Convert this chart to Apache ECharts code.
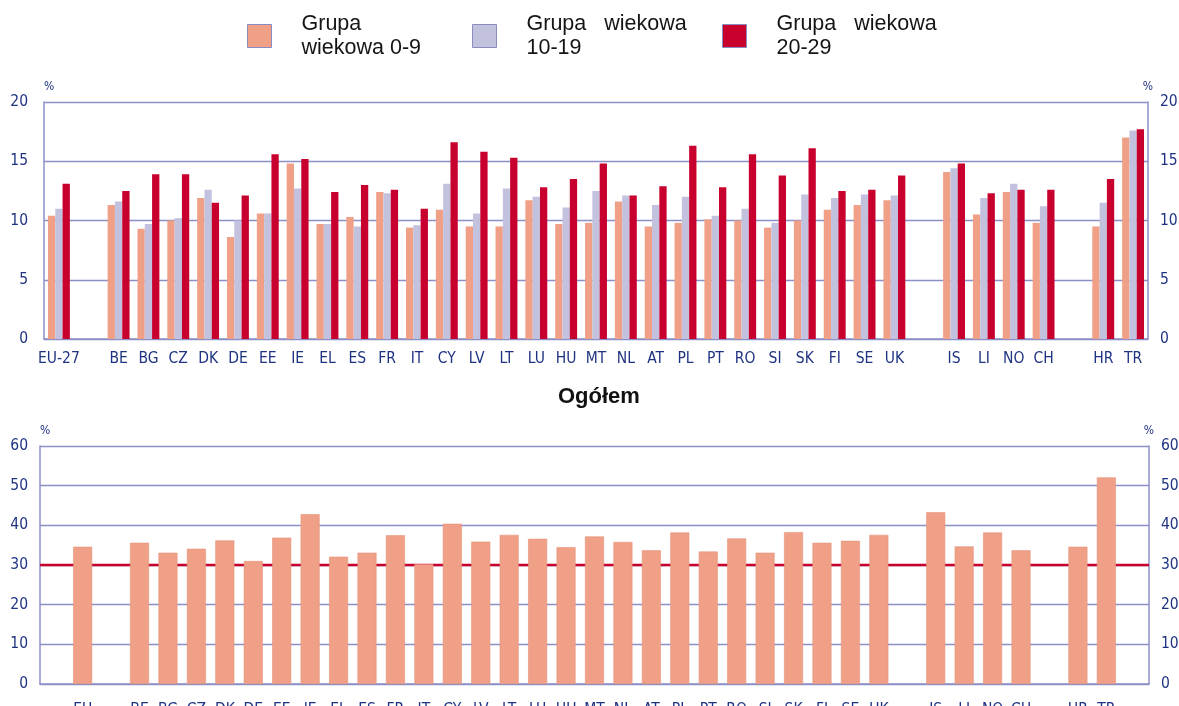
<!DOCTYPE html>
<html>
<head>
<meta charset="utf-8">
<script src="https://cdn.jsdelivr.net/npm/echarts@6/dist/echarts.min.js"></script>
<style>
  html, body { margin: 0; padding: 0; background: #ffffff; }
  #chart { width: 1179px; height: 706px; }
</style>
</head>
<body>
<div id="chart"></div>
<script>
// Country codes per age-group chart; blank entries are spacer slots between country groups
const countriesByAge = ['EU-27', ' ', 'BE', 'BG', 'CZ', 'DK', 'DE', 'EE', 'IE', 'EL', 'ES', 'FR', 'IT', 'CY', 'LV', 'LT', 'LU', 'HU', 'MT', 'NL', 'AT', 'PL', 'PT', 'RO', 'SI', 'SK', 'FI', 'SE', 'UK', '  ', 'IS', 'LI', 'NO', 'CH', '   ', 'HR', 'TR'];

// Share of population by age group, %
const age0to9 = [10.4, null, 11.3, 9.3, 10.0, 11.9, 8.6, 10.6, 14.8, 9.7, 10.3, 12.4, 9.4, 10.9, 9.5, 9.5, 11.7, 9.7, 9.8, 11.6, 9.5, 9.8, 10.1, 10.0, 9.4, 10.0, 10.9, 11.3, 11.7, null, 14.1, 10.5, 12.4, 9.8, null, 9.5, 17.0];
const age10to19 = [11.0, null, 11.6, 9.7, 10.2, 12.6, 10.0, 10.6, 12.7, 9.7, 9.5, 12.3, 9.6, 13.1, 10.6, 12.7, 12.0, 11.1, 12.5, 12.1, 11.3, 12.0, 10.4, 11.0, 9.8, 12.2, 11.9, 12.2, 12.1, null, 14.4, 11.9, 13.1, 11.2, null, 11.5, 17.6];
const age20to29 = [13.1, null, 12.5, 13.9, 13.9, 11.5, 12.1, 15.6, 15.2, 12.4, 13.0, 12.6, 11.0, 16.6, 15.8, 15.3, 12.8, 13.5, 14.8, 12.1, 12.9, 16.3, 12.8, 15.6, 13.8, 16.1, 12.5, 12.6, 13.8, null, 14.8, 12.3, 12.6, 12.6, null, 13.5, 17.7];

// Total chart ("Ogółem")
const countriesTotal = [' ', 'EU', '  ', 'BE', 'BG', 'CZ', 'DK', 'DE', 'EE', 'IE', 'EL', 'ES', 'FR', 'IT', 'CY', 'LV', 'LT', 'LU', 'HU', 'MT', 'NL', 'AT', 'PL', 'PT', 'RO', 'SI', 'SK', 'FI', 'SE', 'UK', '   ', 'IS', 'LI', 'NO', 'CH', '    ', 'HR', 'TR', '     '];
const totalShare = [null, 34.6, null, 35.6, 33.1, 34.1, 36.2, 31.0, 36.9, 42.8, 32.1, 33.1, 37.5, 30.2, 40.4, 35.9, 37.6, 36.6, 34.5, 37.2, 35.8, 33.7, 38.2, 33.4, 36.7, 33.1, 38.3, 35.6, 36.1, 37.6, null, 43.3, 34.7, 38.2, 33.7, null, 34.6, 52.1, null];
const totalThreshold = 30;

// Axis tick settings
const topTicks = { min: 0, max: 20, interval: 5 };
const bottomTicks = { min: 0, max: 60, interval: 10 };

const seriesNames = ['Grupa wiekowa 0-9', 'Grupa wiekowa 10-19', 'Grupa wiekowa 20-29'];
const legendText = {
  'Grupa wiekowa 0-9': 'Grupa\nwiekowa 0-9',
  'Grupa wiekowa 10-19': 'Grupa   wiekowa\n10-19',
  'Grupa wiekowa 20-29': 'Grupa   wiekowa\n20-29'
};

const C_ORANGE = '#efa087';
const C_LILAC = '#c2c2de';
const C_RED = '#c8002d';
const C_AXIS = '#8c90c6';
const C_LABEL = '#1f3382';
const LABEL_FONT = '"Liberation Sans Narrow", "DejaVu Sans Condensed", "Noto Sans", sans-serif';
const TEXT_FONT = '"Liberation Sans", Arial, sans-serif';

const chart = echarts.init(document.getElementById('chart'), null, { renderer: 'canvas' });

function legendAt(name, left) {
  return {
    data: [name],
    left: left,
    top: 12,
    padding: 0,
    icon: 'rect',
    itemWidth: 24,
    itemHeight: 23,
    itemGap: 0,
    selectedMode: false,
    itemStyle: { borderColor: '#8a8cbf', borderWidth: 1 },
    formatter: n => legendText[n],
    textStyle: { fontFamily: TEXT_FONT, fontSize: 21.5, color: '#151515', lineHeight: 24, padding: [0, 0, 0, 25] }
  };
}

const valueAxis = (gridIndex, ticks, pos, showGrid, labelMargin) => ({
  type: 'value',
  gridIndex: gridIndex,
  position: pos,
  min: ticks.min,
  max: ticks.max,
  interval: ticks.interval,
  name: '%',
  nameLocation: 'end',
  nameGap: 9,
  nameTextStyle: {
    fontFamily: LABEL_FONT, fontSize: 12, color: C_LABEL,
    align: pos === 'left' ? 'left' : 'center', verticalAlign: 'bottom'
  },
  axisLine: { show: true, lineStyle: { color: C_AXIS, width: 1.5 } },
  axisTick: { show: false },
  axisLabel: {
    margin: labelMargin, fontFamily: LABEL_FONT, fontSize: 15.5, color: C_LABEL,
    align: pos === 'left' ? 'right' : 'left'
  },
  splitLine: { show: showGrid, lineStyle: { color: C_AXIS, width: 1.3 } }
});

const categoryAxis = (gridIndex, data, margin) => ({
  type: 'category',
  gridIndex: gridIndex,
  data: data,
  axisLine: { show: true, lineStyle: { color: C_AXIS, width: 1.5 } },
  axisTick: { show: false },
  axisLabel: { interval: 0, margin: margin, fontFamily: LABEL_FONT, fontSize: 15.5, color: C_LABEL }
});

const option = {
  backgroundColor: '#ffffff',
  animation: false,
  legend: [
    legendAt(seriesNames[0], 247),
    legendAt(seriesNames[1], 472),
    legendAt(seriesNames[2], 722)
  ],
  title: {
    text: 'Ogółem',
    left: 558,
    top: 386,
    padding: 0,
    textStyle: { fontFamily: TEXT_FONT, fontSize: 22, fontWeight: 'bold', color: '#111' }
  },
  grid: [
    { left: 44, right: 31, top: 102, height: 237, outerBoundsMode: 'none' },
    { left: 40, right: 30, top: 446, height: 238, outerBoundsMode: 'none' }
  ],
  xAxis: [
    categoryAxis(0, countriesByAge, 12),
    categoryAxis(1, countriesTotal, 18),
    { type: 'category', gridIndex: 1, data: ['a', 'b'], boundaryGap: false, show: false }
  ],
  yAxis: [
    valueAxis(0, topTicks, 'left', true, 16),
    valueAxis(0, topTicks, 'right', false, 12),
    valueAxis(1, bottomTicks, 'left', true, 12),
    valueAxis(1, bottomTicks, 'right', false, 12)
  ],
  series: [
    {
      name: seriesNames[0], type: 'bar', xAxisIndex: 0, yAxisIndex: 0,
      data: age0to9, barWidth: 7.3, barGap: '0%',
      itemStyle: { color: C_ORANGE }
    },
    {
      name: seriesNames[1], type: 'bar', xAxisIndex: 0, yAxisIndex: 0,
      data: age10to19, barWidth: 7.3, barGap: '0%',
      itemStyle: { color: C_LILAC }
    },
    {
      name: seriesNames[2], type: 'bar', xAxisIndex: 0, yAxisIndex: 0,
      data: age20to29, barWidth: 7.3, barGap: '0%',
      itemStyle: { color: C_RED }
    },
    {
      name: 'Ogółem', type: 'line', xAxisIndex: 2, yAxisIndex: 2, z: 1,
      data: [totalThreshold, totalThreshold], symbol: 'none', silent: true,
      lineStyle: { color: C_RED, width: 2.6 }
    },
    {
      name: 'Ogółem', type: 'bar', xAxisIndex: 1, yAxisIndex: 2, z: 3,
      data: totalShare, barWidth: 19,
      itemStyle: { color: C_ORANGE, borderColor: '#e6937a', borderWidth: 0.6 }
    }
  ]
};

chart.setOption(option);
</script>
</body>
</html>
